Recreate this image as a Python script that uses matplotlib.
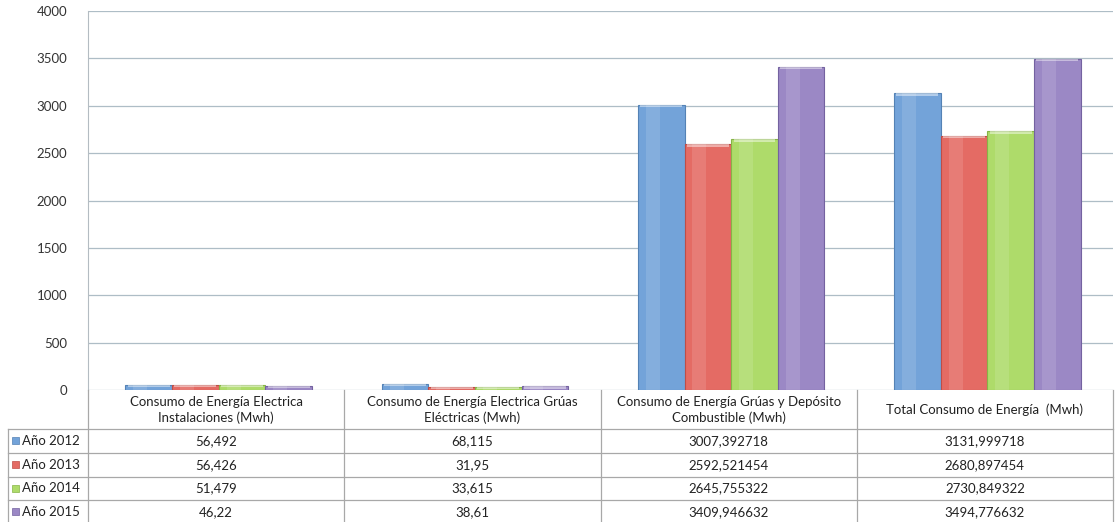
import numpy as np
import matplotlib
matplotlib.use('Agg')
from matplotlib import pyplot as plt
from matplotlib.patches import Rectangle

plt.rcParams['font.family'] = ['Lato', 'DejaVu Sans']

categories = [
    'Consumo de Energía Electrica\nInstalaciones (Mwh)',
    'Consumo de Energía Electrica Grúas\nEléctricas (Mwh)',
    'Consumo de Energía Grúas y Depósito\nCombustible (Mwh)',
    'Total Consumo de Energía  (Mwh)',
]
series_names = ['Año 2012', 'Año 2013', 'Año 2014', 'Año 2015']
values_2012 = [56.492, 68.115, 3007.392718, 3131.999718]
values_2013 = [56.426, 31.95, 2592.521454, 2680.897454]
values_2014 = [51.479, 33.615, 2645.755322, 2730.849322]
values_2015 = [46.22, 38.61, 3409.946632, 3494.776632]
labels_2012 = ['56,492', '68,115', '3007,392718', '3131,999718']
labels_2013 = ['56,426', '31,95', '2592,521454', '2680,897454']
labels_2014 = ['51,479', '33,615', '2645,755322', '2730,849322']
labels_2015 = ['46,22', '38,61', '3409,946632', '3494,776632']
yticks = [0, 500, 1000, 1500, 2000, 2500, 3000, 3500, 4000]

colors = ['#73a3d9', '#e46b64', '#aedb6a', '#9b88c5']
edges = ['#5482b5', '#bf4d47', '#86b446', '#7462a0']

all_values = [values_2012, values_2013, values_2014, values_2015]
all_labels = [labels_2012, labels_2013, labels_2014, labels_2015]

W, H = 1118, 522
fig = plt.figure(figsize=(W / 100, H / 100), dpi=100)

# plot area in pixels
x0, x1 = 88, 1113
y_top, y_zero = 11, 390
ax = fig.add_axes([x0 / W, 1 - y_zero / H, (x1 - x0) / W, (y_zero - y_top) / H])

x = np.arange(len(categories))
bw = 0.182
offsets = (np.arange(4) - 1.5) * bw + 0.01
for i, vals in enumerate(all_values):
    ax.bar(x + offsets[i], vals, width=bw, color=colors[i], edgecolor=edges[i],
           linewidth=0.8, zorder=3)
    # soft lighter band down the bar, like the glossy 3D style
    ax.bar(x + offsets[i] - bw * 0.18, vals, width=bw * 0.3, color='white',
           alpha=0.12, linewidth=0, zorder=4)
    # light top highlight
    ax.bar(x + offsets[i], [min(v, 25) for v in vals], bottom=[v - min(v, 25) for v in vals],
           width=bw * 0.9, color='white', alpha=0.45, linewidth=0, zorder=4)

ax.set_xlim(-0.5, len(categories) - 0.5)
ax.set_ylim(0, 4000)
ax.set_yticks(yticks)
ax.set_yticklabels([str(t) for t in yticks], fontsize=9.5, color='#333333')
ax.set_xticks([])
ax.tick_params(axis='y', length=0, pad=15)
ax.grid(axis='y', color='#aebdc6', linewidth=0.9, zorder=0)
for s in ['top', 'right', 'bottom']:
    ax.spines[s].set_visible(False)
ax.spines['left'].set_color('#b4bcc2')

# data table below the chart, drawn in pixel coordinates
tab = fig.add_axes([0, 0, 1, 1], facecolor='none')
tab.set_xlim(0, W)
tab.set_ylim(H, 0)
tab.axis('off')

line_kw = dict(color='#a8a8a8', linewidth=0.9)
col_w = (x1 - x0) / len(categories)
col_edges = [x0 + k * col_w for k in range(len(categories) + 1)]
row_lines = [429, 453, 477, 500, 524]
left_edge = 8

# header cells (no outer frame on top, like the reference)
for k, cat in enumerate(categories):
    cx = (col_edges[k] + col_edges[k + 1]) / 2
    tab.text(cx, 410, cat, ha='center', va='center', fontsize=9.5, color='#222222',
             linespacing=1.35)
for ce in col_edges:
    tab.plot([ce, ce], [y_zero, row_lines[-1]], **line_kw)
tab.plot([left_edge, left_edge], [row_lines[0], row_lines[-1]], **line_kw)
for ry in row_lines:
    tab.plot([left_edge, x1], [ry, ry], **line_kw)

for r, (name, labs) in enumerate(zip(series_names, all_labels)):
    cy = (row_lines[r] + row_lines[r + 1]) / 2
    tab.add_patch(Rectangle((12, cy - 4), 7, 7, facecolor=colors[r],
                            edgecolor=edges[r], linewidth=0.5))
    tab.text(22, cy, name, ha='left', va='center', fontsize=9.5, color='#222222')
    for k, lab in enumerate(labs):
        cx = (col_edges[k] + col_edges[k + 1]) / 2
        tab.text(cx, cy, lab, ha='center', va='center', fontsize=9.5, color='#222222')

fig.savefig('out.png', dpi=100)
